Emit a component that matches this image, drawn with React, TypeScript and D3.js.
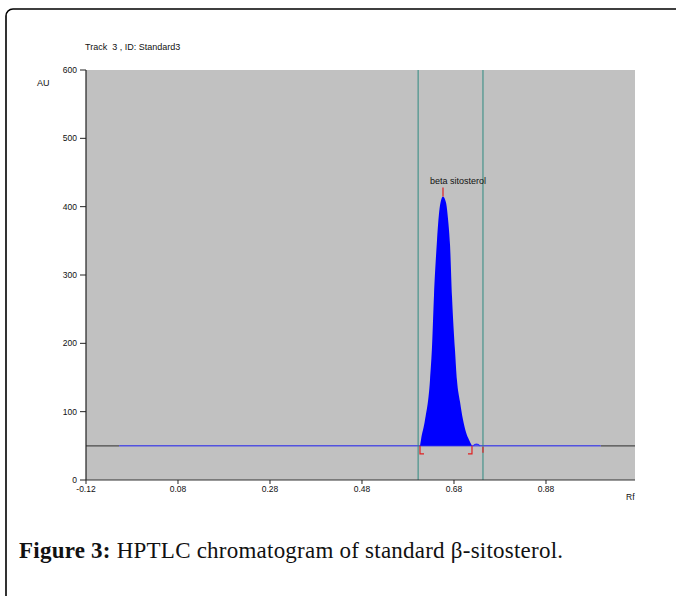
import React from "react";
import * as d3 from "d3";

const yTicks = [0, 100, 200, 300, 400, 500, 600];
const xTicks = [-0.12, 0.08, 0.28, 0.48, 0.68, 0.88];
const xTickLabels = ["-0.12", "0.08", "0.28", "0.48", "0.68", "0.88"];
const baselineAU = 50;
const baseStartRf = -0.048;
const baseEndRf = 0.999;
const windowRf = [0.602, 0.743];
const peakRf = [0.6061, 0.6083, 0.617, 0.6278, 0.6322, 0.6365, 0.643, 0.6496, 0.6561, 0.6626, 0.667, 0.6713, 0.6757, 0.6822, 0.6865, 0.693, 0.6996, 0.7061, 0.7126, 0.7191];
const peakAU = [50, 59, 88, 146, 195, 270, 350, 402, 415, 406, 382, 345, 268, 190, 146, 115, 88, 70, 59, 50];
const blipRf = [0.722, 0.725, 0.729, 0.733, 0.736];
const blipAU = [50, 52, 52.5, 52, 50];
const peakLabel = "beta sitosterol";
const peakTopRf = 0.6561;
const peakTopAU = 415;
const peakStartRf = 0.6061;
const peakEndRf = 0.7191;

export default function App() {
  const left = 86, right = 635, top = 70, bottom = 480;
  const x = d3.scaleLinear().domain([-0.12, 1.0735]).range([left, right]);
  const y = d3.scaleLinear().domain([0, 600]).range([bottom, top]);
  const pts = peakRf.map((r, i) => [r, peakAU[i]] as [number, number]);
  const area = d3.area<[number, number]>().x(d => x(d[0])).y0(y(baselineAU)).y1(d => y(d[1])).curve(d3.curveMonotoneX);
  const line = d3.line<[number, number]>().x(d => x(d[0])).y(d => y(d[1]));
  const blip = blipRf.map((r, i) => [r, blipAU[i]] as [number, number]);
  const sans = "Arial, 'Liberation Sans', sans-serif";
  const yb = y(baselineAU);
  return (
    <div style={{ position: "absolute", left: 0, top: 0 }}>
      <svg width={676} height={596} style={{ display: "block", background: "#fff" }}>
        <rect x={6} y={9} width={720} height={640} rx={7} fill="none" stroke="#000" strokeWidth={1.6} />
        <text x={85} y={50} fontFamily={sans} fontSize={9} fill="#111" style={{ whiteSpace: "pre" }}>Track  3 , ID: Standard3</text>
        <text x={37} y={86} fontFamily={sans} fontSize={9} fill="#111">AU</text>
        <rect x={left} y={top} width={right - left} height={bottom - top} fill="#c1c1c1" />
        {/* baseline */}
        <line x1={left} x2={x(baseStartRf)} y1={yb} y2={yb} stroke="#4a4a4a" strokeWidth={1.3} />
        <line x1={x(baseEndRf)} x2={right} y1={yb} y2={yb} stroke="#4a4a4a" strokeWidth={1.3} />
        <line x1={x(baseStartRf)} x2={x(baseEndRf)} y1={yb} y2={yb} stroke="#5252e0" strokeWidth={1.5} />
        {/* window lines */}
        {windowRf.map((r, i) => (
          <line key={i} x1={x(r)} x2={x(r)} y1={top} y2={bottom} stroke="#2f8a80" strokeWidth={1} />
        ))}
        {/* peak */}
        <path d={area(pts) || ""} fill="#0000ff" />
        <path d={line(blip) || ""} fill="none" stroke="#3030ff" strokeWidth={1.2} />
        {/* red markers */}
        <path d={`M${x(peakStartRf)},${yb} V${yb + 8} H${x(peakStartRf) + 4}`} fill="none" stroke="#e02020" strokeWidth={1.2} />
        <path d={`M${x(peakEndRf)},${yb} V${yb + 8} H${x(peakEndRf) - 4}`} fill="none" stroke="#e02020" strokeWidth={1.2} />
        <line x1={x(windowRf[1])} x2={x(windowRf[1])} y1={yb + 1} y2={yb + 7} stroke="#e02020" strokeWidth={1.2} />
        <line x1={x(peakTopRf)} x2={x(peakTopRf)} y1={y(peakTopAU) - 9} y2={y(peakTopAU)} stroke="#e02020" strokeWidth={1.2} />
        <text x={430} y={184} fontFamily={sans} fontSize={9} fill="#111">{peakLabel}</text>
        {/* axes */}
        <line x1={left} x2={left} y1={top} y2={bottom} stroke="#222" strokeWidth={1.2} />
        <line x1={left} x2={right} y1={bottom} y2={bottom} stroke="#333" strokeWidth={1.2} />
        {yTicks.map(t => (
          <g key={t}>
            <line x1={left - 6} x2={left} y1={y(t)} y2={y(t)} stroke="#222" />
            <text x={left - 9} y={y(t) + 3} textAnchor="end" fontFamily={sans} fontSize={8.5} fill="#111">{t}</text>
          </g>
        ))}
        {xTicks.map((t, i) => (
          <g key={t}>
            <line x1={x(t)} x2={x(t)} y1={bottom} y2={bottom + 4} stroke="#222" />
            <text x={x(t)} y={bottom + 12} textAnchor="middle" fontFamily={sans} fontSize={8.5} fill="#111">{xTickLabels[i]}</text>
          </g>
        ))}
        <text x={626} y={500} fontFamily={sans} fontSize={8.5} fill="#111">Rf</text>
        <text x={19} y={558} fontFamily="'Liberation Serif', 'Times New Roman', serif" fontSize={23} fill="#111" textLength={544} lengthAdjust="spacing">
          <tspan fontWeight="bold">Figure 3:</tspan> HPTLC chromatogram of standard β-sitosterol.
        </text>
      </svg>
    </div>
  );
}
